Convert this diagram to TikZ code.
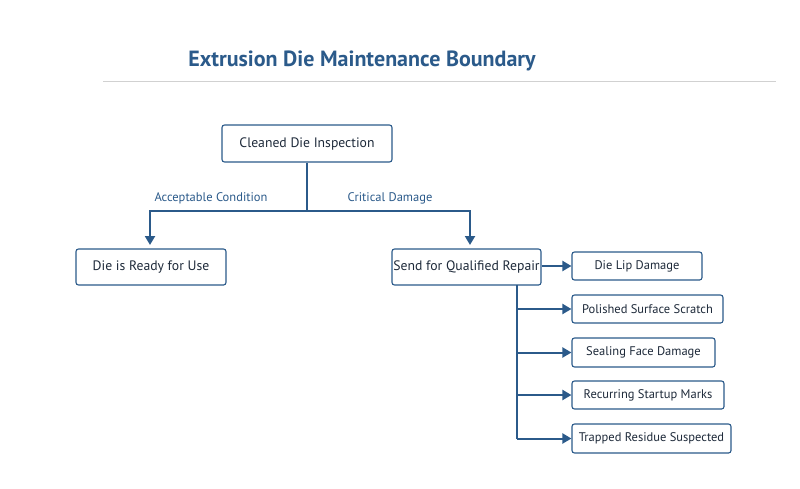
\documentclass[tikz,border=0pt]{standalone}
\usepackage{fontspec}
\setmainfont{PT Sans}
\usetikzlibrary{arrows.meta}
\definecolor{dblue}{HTML}{2B5A8A}
\definecolor{ink}{HTML}{1E2A3A}
\begin{document}
\begin{tikzpicture}[x=1pt,y=-1pt,
  box/.style={draw=dblue,line width=1.1pt,rounded corners=2.5pt,fill=white,text=ink,font=\fontsize{13.7}{15}\selectfont,inner sep=0pt},
  small/.style={box,font=\fontsize{12.5}{14}\selectfont},
  conn/.style={draw=dblue,line width=2pt},
  arr/.style={conn,-{Triangle[length=9pt,width=10pt]}},
  lbl/.style={text=dblue,font=\fontsize{12.5}{14}\selectfont}]
\useasboundingbox (0,0) rectangle (800,488);
\node[text=dblue,font=\fontsize{22}{26}\selectfont\bfseries] (title) at (362,61) {Extrusion Die Maintenance Boundary};
\draw[black!18,line width=1pt] (103,81) -- (776,81);
\node[box,minimum width=170pt,minimum height=37pt] (insp) at (307,143.5) {Cleaned Die Inspection};
\node[box,minimum width=150pt,minimum height=36pt] (ready) at (151,267) {Die is Ready for Use};
\node[box,minimum width=149pt,minimum height=36pt] (send) at (466.5,267) {Send for Qualified Repair};
\node[small,minimum width=130pt,minimum height=28pt] (lip) at (637,266) {Die Lip Damage};
\node[small,minimum width=151pt,minimum height=28pt] (pol) at (647.5,309) {Polished Surface Scratch};
\node[small,minimum width=143pt,minimum height=29pt] (seal) at (643.5,352.5) {Sealing Face Damage};
\node[small,minimum width=152pt,minimum height=28pt] (rec) at (648,395) {Recurring Startup Marks};
\node[small,minimum width=159pt,minimum height=29pt] (trap) at (651.5,438.5) {Trapped Residue Suspected};
\coordinate (j) at (307,211);
\draw[conn] (insp.south) -- (j);
\draw[arr] (j) -| (150,245);
\draw[arr] (j) -| (470,245);
\node[lbl] (l1) at (211,198) {Acceptable Condition};
\node[lbl] (l2) at (390,198) {Critical Damage};
\draw[arr] (send.east |- lip.west) -- (lip.west);
\coordinate (t) at (517,285);
\draw[conn] (t) -- (517,438.5);
\foreach \n in {pol,seal,rec,trap}{\draw[arr] (517,0 |- \n.west) -- (\n.west);}
\end{tikzpicture}
\end{document}
